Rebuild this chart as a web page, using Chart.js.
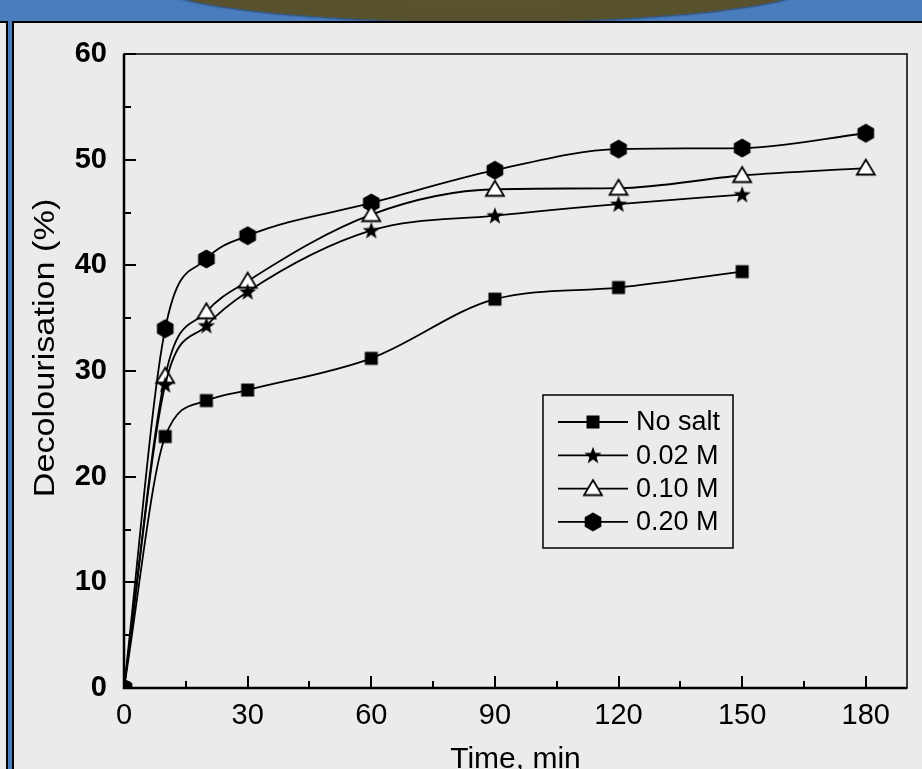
<!DOCTYPE html>
<html>
<head>
<meta charset="utf-8">
<script src="https://cdn.jsdelivr.net/npm/chart.js@4/dist/chart.umd.min.js"></script>
<style>
  html, body { margin: 0; padding: 0; width: 922px; height: 769px; overflow: hidden; background: #4a7dbd; }
  #lens {
    position: absolute; left: 150px; top: -60px; width: 670px; height: 82px; border-radius: 50%;
    background: radial-gradient(ellipse at 50% 40%, #5a542f 0%, #57512d 80%, #4a4526 100%);
    box-shadow: 0 1px 2px rgba(0,0,0,0.5);
  }
  #sidePanel {
    position: absolute; left: -100px; top: 21px; width: 104px; height: 900px;
    background: #ebebeb; border: 2px solid #000;
  }
  #panel {
    position: absolute; left: 12px; top: 21px; width: 1000px; height: 900px;
    background: #ebebeb; border: 2px solid #000;
  }
  #chartBox { position: absolute; left: 0; top: 0; width: 922px; height: 769px; }
</style>
</head>
<body>
<div id="lens"></div>
<div id="sidePanel"></div>
<div id="panel"></div>
<div id="chartBox"><canvas id="chart" width="922" height="769" aria-label="Decolourisation (%) versus Time, min"></canvas></div>
<script>
// Reaction time (min) and colour removal (%) at each salt concentration
const times = [0, 10, 20, 30, 60, 90, 120, 150, 180];
const noSalt = [0, 23.8, 27.2, 28.2, 31.2, 36.8, 37.9, 39.4, null];
const salt002 = [0, 28.7, 34.3, 37.5, 43.3, 44.7, 45.8, 46.7, null];
const salt010 = [0, 29.5, 35.6, 38.5, 44.8, 47.2, 47.3, 48.5, 49.2];
const salt020 = [0, 34.0, 40.6, 42.8, 45.9, 49.0, 51.0, 51.1, 52.5];
const seriesLabels = ['No salt', '0.02 M', '0.10 M', '0.20 M'];
const xTicks = [0, 30, 60, 90, 120, 150, 180];
const yTicks = [0, 10, 20, 30, 40, 50, 60];
const yTitle = 'Decolourisation (%)';

const FONT = '"Liberation Sans", Arial, sans-serif';

// Marker glyphs drawn onto small canvases
function glyph(size, draw) {
  const c = document.createElement('canvas');
  c.width = size; c.height = size;
  const g = c.getContext('2d');
  draw(g, size / 2);
  return c;
}
const squareMark = glyph(16, (g, m) => { g.fillStyle = '#000'; g.fillRect(m - 6.5, m - 6.5, 13, 13); });
const starMark = glyph(20, (g, m) => {
  g.beginPath();
  for (let i = 0; i < 10; i++) {
    const r = i % 2 === 0 ? 9 : 3.7;
    const a = -Math.PI / 2 + i * Math.PI / 5;
    const px = m + r * Math.cos(a), py = m + 0.6 + r * Math.sin(a);
    i === 0 ? g.moveTo(px, py) : g.lineTo(px, py);
  }
  g.closePath(); g.fillStyle = '#000'; g.fill();
});
const triangleMark = glyph(22, (g, m) => {
  g.beginPath();
  g.moveTo(m, m - 8.5); g.lineTo(m + 9, m + 6.5); g.lineTo(m - 9, m + 6.5); g.closePath();
  g.fillStyle = '#fff'; g.fill();
  g.lineWidth = 1.8; g.strokeStyle = '#000'; g.stroke();
});
const hexMark = glyph(22, (g, m) => {
  g.beginPath();
  for (let i = 0; i < 6; i++) {
    const a = -Math.PI / 2 + i * Math.PI / 3;
    const px = m + 9.6 * Math.cos(a), py = m + 9.6 * Math.sin(a);
    i === 0 ? g.moveTo(px, py) : g.lineTo(px, py);
  }
  g.closePath(); g.fillStyle = '#000'; g.fill();
});
const marks = [squareMark, starMark, triangleMark, hexMark];

function points(values) {
  const out = [];
  values.forEach((v, i) => { if (v !== null) out.push({ x: times[i], y: v }); });
  return out;
}

const datasets = [noSalt, salt002, salt010, salt020].map((vals, i) => ({
  label: seriesLabels[i],
  data: points(vals),
  borderColor: '#000',
  borderWidth: 1.8,
  backgroundColor: '#000',
  pointStyle: marks[i],
  pointRadius: 9,
  cubicInterpolationMode: 'monotone',
  fill: false
}));

// Closed frame, inward major/minor ticks, the y-axis title and the boxed legend
const frameAndLegend = {
  id: 'frameAndLegend',
  afterDatasetsDraw(chart) {
    const ctx = chart.ctx;
    const a = chart.chartArea;
    const xs = chart.scales.x, ys = chart.scales.y;
    ctx.save();
    ctx.strokeStyle = '#000';
    ctx.lineWidth = 1.5;
    ctx.strokeRect(a.left, a.top, a.right - a.left, a.bottom - a.top);
    ctx.lineWidth = 2.5;
    ctx.beginPath();
    ctx.moveTo(a.left, a.top); ctx.lineTo(a.left, a.bottom); ctx.lineTo(a.right, a.bottom);
    ctx.stroke();
    ctx.lineWidth = 2;
    ctx.beginPath();
    for (let v = 0; v <= 180; v += 15) {
      const px = Math.round(xs.getPixelForValue(v));
      const len = v % 30 === 0 ? 12 : 7;
      ctx.moveTo(px, a.bottom); ctx.lineTo(px, a.bottom - len);
    }
    for (let v = 0; v <= 60; v += 5) {
      const py = Math.round(ys.getPixelForValue(v));
      const len = v % 10 === 0 ? 12 : 7;
      ctx.moveTo(a.left, py); ctx.lineTo(a.left + len, py);
    }
    ctx.stroke();

    // y-axis title, set slightly tall
    ctx.save();
    ctx.translate(46, 348);
    ctx.rotate(-Math.PI / 2);
    ctx.scale(1.18, 1);
    ctx.font = '29px ' + FONT;
    ctx.fillStyle = '#000';
    ctx.textAlign = 'center';
    ctx.textBaseline = 'middle';
    ctx.fillText(yTitle, 0, 0);
    ctx.restore();

    // legend
    const bx = 543, by = 395, bw = 190, bh = 153;
    ctx.lineWidth = 1.5;
    ctx.strokeRect(bx, by, bw, bh);
    ctx.font = '27px ' + FONT;
    ctx.fillStyle = '#000';
    ctx.textBaseline = 'middle';
    chart.data.datasets.forEach((ds, i) => {
      const ry = by + 27 + i * 33.3;
      ctx.lineWidth = 1.8;
      ctx.beginPath(); ctx.moveTo(bx + 15, ry); ctx.lineTo(bx + 85, ry); ctx.stroke();
      const img = ds.pointStyle;
      ctx.drawImage(img, bx + 50 - img.width / 2, ry - img.height / 2);
      ctx.fillText(ds.label, bx + 93, ry + 1);
    });
    ctx.restore();
  }
};

new Chart(document.getElementById('chart'), {
  type: 'line',
  data: { datasets },
  plugins: [frameAndLegend],
  options: {
    responsive: false,
    animation: false,
    layout: { padding: { left: 0, top: 54, right: 15, bottom: 0 } },
    plugins: { legend: { display: false }, tooltip: { enabled: false } },
    scales: {
      x: {
        type: 'linear', min: 0, max: 190,
        grid: { display: false, drawTicks: false },
        border: { display: false },
        afterBuildTicks: s => { s.ticks = xTicks.map(v => ({ value: v })); },
        afterFit: s => { s.height = 81; },
        ticks: {
          padding: 11, color: '#000',
          font: { family: FONT, size: 29 },
          callback: v => String(v)
        },
        title: {
          display: true, text: 'Time, min', color: '#000',
          font: { family: FONT, size: 30, lineHeight: 0.6 },
          padding: { top: 0, bottom: 0 }
        }
      },
      y: {
        type: 'linear', min: 0, max: 60,
        grid: { display: false, drawTicks: false },
        border: { display: false },
        afterBuildTicks: s => { s.ticks = yTicks.map(v => ({ value: v })); },
        afterFit: s => { s.width = 124; },
        ticks: {
          padding: 17, color: '#000',
          font: { family: FONT, size: 29, weight: 'bold' },
          callback: v => String(v)
        },
        title: { display: false }
      }
    }
  }
});
</script>
</body>
</html>
